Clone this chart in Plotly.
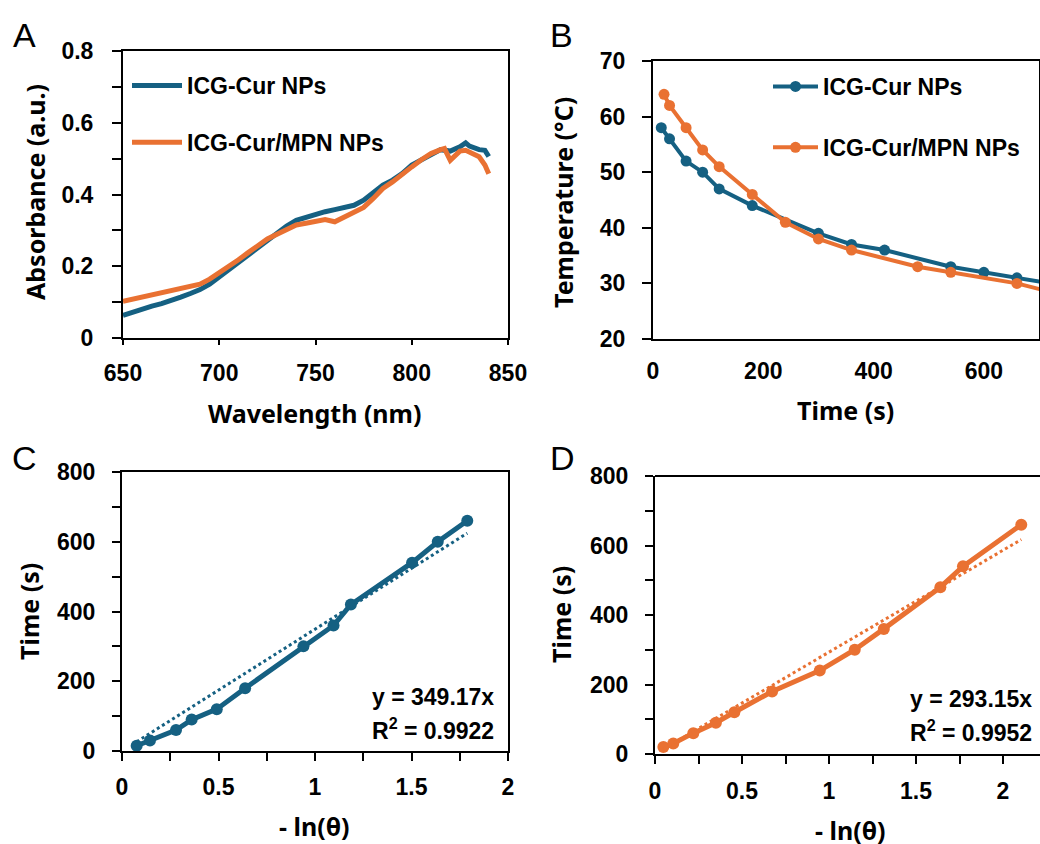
import plotly.graph_objects as go

BLUE = '#156082'
ORANGE = '#E97132'
W, H = 1040, 844

# --- panel A: absorbance spectra
wl_cur = [650, 655, 660, 665, 670, 675, 680, 685, 690, 695, 700, 705, 710, 715, 720, 725, 730, 735, 740,
          745, 750, 755, 760, 765, 770, 775, 780, 785, 790, 795, 800, 805, 810, 815, 820, 825, 828, 830,
          835, 838, 840]
abs_cur = [0.063, 0.072, 0.082, 0.089, 0.096, 0.104, 0.114, 0.124, 0.135, 0.150, 0.170, 0.190, 0.212, 0.233,
           0.254, 0.273, 0.291, 0.312, 0.328, 0.337, 0.346, 0.352, 0.358, 0.363, 0.370, 0.384, 0.403, 0.426,
           0.440, 0.458, 0.482, 0.497, 0.509, 0.525, 0.521, 0.533, 0.544, 0.535, 0.525, 0.523, 0.506]
wl_mpn = [650, 655, 660, 665, 670, 675, 680, 685, 690, 695, 700, 705, 710, 715, 720, 725, 730, 735, 740,
          745, 750, 755, 760, 765, 770, 775, 780, 785, 790, 795, 800, 805, 810, 815, 817, 820, 825, 828,
          830, 835, 838, 840]
abs_mpn = [0.102, 0.108, 0.114, 0.119, 0.124, 0.129, 0.135, 0.142, 0.150, 0.164, 0.181, 0.198, 0.218, 0.238,
           0.259, 0.276, 0.289, 0.303, 0.315, 0.320, 0.326, 0.330, 0.324, 0.338, 0.352, 0.364, 0.389, 0.417,
           0.435, 0.458, 0.477, 0.497, 0.514, 0.525, 0.528, 0.495, 0.521, 0.523, 0.518, 0.505, 0.482, 0.458]

# --- panel B: cooling curves
t_cur = [15, 30, 60, 90, 120, 180, 300, 360, 420, 540, 600, 660, 720]
temp_cur = [58, 56, 52, 50, 47, 44, 39, 37, 36, 33, 32, 31, 30]
t_mpn = [20, 30, 60, 90, 120, 180, 240, 300, 360, 480, 540, 660, 720]
temp_mpn = [64, 62, 58, 54, 51, 46, 41, 38, 36, 33, 32, 30, 28.5]

# --- panels C, D: time vs -ln(theta)
lnth_cur = [0.076, 0.145, 0.280, 0.361, 0.491, 0.638, 0.940, 1.096, 1.186, 1.503, 1.636, 1.789]
time_cur = [15, 30, 60, 90, 120, 180, 300, 360, 420, 540, 600, 660]
slope_cur = 349.17
r2_cur = 0.9922
lnth_mpn = [0.048, 0.105, 0.220, 0.350, 0.456, 0.673, 0.947, 1.148, 1.315, 1.640, 1.770, 2.105]
time_mpn = [20, 30, 60, 90, 120, 180, 240, 300, 360, 480, 540, 660]
slope_mpn = 293.15
r2_mpn = 0.9952

name_cur = 'ICG-Cur NPs'
name_mpn = 'ICG-Cur/MPN NPs'


def fx(px):
    return px / W


def fy(py):
    return 1 - py / H


fig = go.Figure()

fig.add_trace(go.Scatter(x=wl_cur, y=abs_cur, mode='lines', name=name_cur, legendgroup='a1',
                         line=dict(color=BLUE, width=5), xaxis='x', yaxis='y', legend='legend'))
fig.add_trace(go.Scatter(x=wl_mpn, y=abs_mpn, mode='lines', name=name_mpn, legendgroup='a2',
                         line=dict(color=ORANGE, width=5), xaxis='x', yaxis='y', legend='legend'))

fig.add_trace(go.Scatter(x=t_cur, y=temp_cur, mode='lines+markers', name=name_cur, legendgroup='b1',
                         line=dict(color=BLUE, width=4), marker=dict(size=11, color=BLUE),
                         xaxis='x2', yaxis='y2', legend='legend2'))
fig.add_trace(go.Scatter(x=t_mpn, y=temp_mpn, mode='lines+markers', name=name_mpn, legendgroup='b2',
                         line=dict(color=ORANGE, width=4), marker=dict(size=11, color=ORANGE),
                         xaxis='x2', yaxis='y2', legend='legend2'))

for xs, ys, slope, col, xa, ya in [(lnth_cur, time_cur, slope_cur, BLUE, 'x3', 'y3'),
                                   (lnth_mpn, time_mpn, slope_mpn, ORANGE, 'x4', 'y4')]:
    fig.add_trace(go.Scatter(x=xs, y=ys, mode='lines+markers', showlegend=False,
                             line=dict(color=col, width=5), marker=dict(size=12, color=col),
                             xaxis=xa, yaxis=ya))
    fit_x = [min(xs), max(xs)]
    fig.add_trace(go.Scatter(x=fit_x, y=[slope * v for v in fit_x], mode='lines', showlegend=False,
                             line=dict(color=col, width=3, dash='dot'), xaxis=xa, yaxis=ya))

tickfont = dict(family='Liberation Sans', size=23, color='black', weight='bold')
common = dict(showgrid=False, zeroline=False, showline=True, linecolor='black', linewidth=2,
              automargin=False, ticks='outside', tickcolor='black', tickwidth=2, tickfont=tickfont)
legfont = dict(family='Liberation Sans', size=23, color='black', weight='bold')

fig.update_layout(
    template='none',
    width=W, height=H,
    margin=dict(l=0, r=0, t=0, b=0),
    plot_bgcolor='white', paper_bgcolor='white',
    xaxis=dict(common, domain=[fx(123), fx(508)], range=[650, 850], dtick=50, tick0=650,
               ticklen=5, ticklabelstandoff=8, mirror=True, anchor='y'),
    yaxis=dict(common, domain=[fy(338), fy(51)], range=[0, 0.8], dtick=0.2, ticklen=9,
               ticklabelstandoff=14, mirror=True, anchor='x',
               minor=dict(dtick=0.1, ticks='outside', ticklen=9, tickwidth=2, tickcolor='black')),
    xaxis2=dict(common, domain=[fx(653), fx(1039)], range=[0, 700], dtick=200, ticks='',
                ticklabelstandoff=10, mirror=True, anchor='y2'),
    yaxis2=dict(common, domain=[fy(339), fy(61)], range=[20, 70], dtick=10, ticklen=9,
                ticklabelstandoff=12, mirror=True, anchor='x2'),
    xaxis3=dict(common, domain=[fx(122), fx(508)], range=[0, 2], dtick=0.5, ticklen=8,
                ticklabelstandoff=6, mirror=True, anchor='y3',
                minor=dict(dtick=0.25, ticks='outside', ticklen=8, tickwidth=2, tickcolor='black')),
    yaxis3=dict(common, domain=[fy(751), fy(472)], range=[0, 800], dtick=200, ticklen=8,
                ticklabelstandoff=12, mirror=True, anchor='x3',
                minor=dict(dtick=100, ticks='outside', ticklen=8, tickwidth=2, tickcolor='black')),
    xaxis4=dict(common, domain=[fx(655), 1.0], range=[0, 2 * (1040 - 655) / (1003 - 655)], dtick=0.5,
                ticklen=8, ticklabelstandoff=7, anchor='y4',
                minor=dict(dtick=0.25, ticks='outside', ticklen=8, tickwidth=2, tickcolor='black')),
    yaxis4=dict(common, domain=[fy(754), fy(476)], range=[0, 800], dtick=200, ticklen=8,
                ticklabelstandoff=12, anchor='x4',
                minor=dict(dtick=100, ticks='outside', ticklen=8, tickwidth=2, tickcolor='black')),
    legend=dict(x=fx(127), y=fy(64), xanchor='left', yanchor='top', bgcolor='rgba(0,0,0,0)',
                traceorder='grouped', tracegroupgap=24, itemwidth=50, font=legfont),
    legend2=dict(x=fx(768), y=fy(65), xanchor='left', yanchor='top', bgcolor='rgba(0,0,0,0)',
                 traceorder='grouped', tracegroupgap=28, itemwidth=45, font=legfont),
)

# top border of panel D (the right side is cut off in the original)
fig.add_shape(type='line', xref='x4 domain', yref='y4 domain', x0=0, x1=1, y0=1, y1=1,
              line=dict(color='black', width=2))

titles = [
    ('Absorbance (a.u.)', 35, 192, -90),
    ('Wavelength (nm)', 314, 413, 0),
    ('Temperature (°C)', 563, 203, -90),
    ('Time (s)', 845, 410, 0),
    ('Time (s)', 29, 612, -90),
    ('- ln(θ)', 314, 826, 0),
    ('Time (s)', 561, 615, -90),
    ('- ln(θ)', 850, 830, 0),
]
for text, px, py, ang in titles:
    fig.add_annotation(text=text, x=fx(px), y=fy(py), xref='paper', yref='paper', showarrow=False,
                       textangle=ang, xanchor='center', yanchor='middle',
                       font=dict(family='Noto Sans', size=25, color='black', weight='bold'))

for text, px, py in [('A', 24, 35), ('B', 561, 35), ('C', 24, 458), ('D', 562, 458)]:
    fig.add_annotation(text=text, x=fx(px), y=fy(py), xref='paper', yref='paper', showarrow=False,
                       font=dict(family='Liberation Sans', size=34, color='black'),
                       xanchor='center', yanchor='middle')

fitfont = dict(family='Liberation Sans', size=23, color='black', weight='bold')
for slope, r2, px, py in [(slope_cur, r2_cur, 496, 697), (slope_mpn, r2_mpn, 1034, 699)]:
    fig.add_annotation(text=f'y = {slope:.2f}x', x=fx(px), y=fy(py), xref='paper', yref='paper',
                       showarrow=False, font=fitfont, xanchor='right', yanchor='middle')
    fig.add_annotation(text=f'R<sup>2</sup> = {r2:.4f}', x=fx(px), y=fy(py + 32), xref='paper',
                       yref='paper', showarrow=False, font=fitfont, xanchor='right', yanchor='middle')

# drop the default page margin so the 1040x844 figure fills the window exactly
fig.write_html('out.html', config={'displayModeBar': False},
               post_script="document.body.style.margin='0';")
